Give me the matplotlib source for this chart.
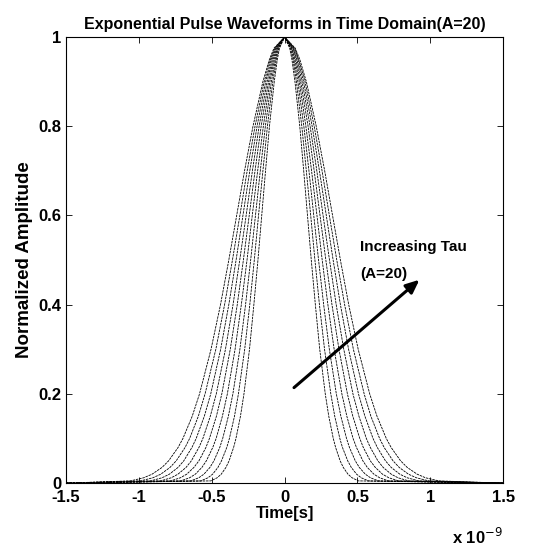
import numpy as np
import matplotlib
matplotlib.use("Agg")
import matplotlib.pyplot as plt

# amplitude levels at which the half-width of each pulse was read (normalized)
levels = [1.0, 0.975, 0.95, 0.9, 0.8, 0.7, 0.6, 0.5, 0.4, 0.3, 0.2, 0.15, 0.1,
          0.08, 0.05, 0.035, 0.02, 0.012, 0.005]
# half-widths (in units of 1e-9 s) for each curve, narrowest to widest
hw_tau1 = [0, .035, .050, .071, .104, .131, .157, .183, .211, .241, .279, .303, .334, .350, .381, .403, .435, .463, .506]
hw_tau2 = [0, .040, .057, .081, .118, .149, .179, .208, .239, .274, .317, .344, .379, .397, .433, .458, .494, .526, .575]
hw_tau3 = [0, .045, .063, .091, .132, .167, .200, .233, .268, .307, .355, .386, .425, .445, .485, .513, .554, .589, .644]
hw_tau4 = [0, .049, .070, .101, .146, .185, .222, .258, .297, .340, .393, .427, .470, .493, .537, .568, .613, .652, .713]
hw_tau5 = [0, .054, .077, .110, .161, .203, .243, .283, .325, .373, .431, .468, .516, .540, .588, .623, .672, .715, .782]
hw_tau6 = [0, .059, .084, .120, .175, .221, .264, .308, .354, .406, .469, .510, .561, .588, .640, .677, .732, .778, .851]
hw_tau7 = [0, .064, .091, .130, .189, .239, .286, .333, .383, .439, .507, .551, .607, .636, .692, .732, .791, .841, .920]
hw_tau8 = [0, .068, .097, .140, .203, .257, .307, .358, .412, .472, .546, .592, .652, .683, .744, .787, .850, .904, .989]
hw_tau9 = [0, .073, .104, .149, .217, .275, .329, .383, .440, .505, .584, .634, .698, .731, .796, .842, .910, .967, 1.058]
curves = [hw_tau1, hw_tau2, hw_tau3, hw_tau4, hw_tau5, hw_tau6, hw_tau7, hw_tau8, hw_tau9]

x_ticks = [-1.5, -1, -0.5, 0, 0.5, 1, 1.5]
x_ticklabels = ["-1.5", "-1", "-0.5", "0", "0.5", "1", "1.5"]
y_ticks = [0, 0.2, 0.4, 0.6, 0.8, 1.0]
y_ticklabels = ["0", "0.2", "0.4", "0.6", "0.8", "1"]
x_span = [-1.5, 1.5]

plt.rcParams['font.family'] = ['Liberation Sans', 'DejaVu Sans']

fig = plt.figure(figsize=(5.37, 5.49), dpi=100)
ax = fig.add_axes([0.123, 0.120, 0.814, 0.8126])

lv = np.array(levels)
for hw in curves:
    hw = np.array(hw)
    xs = np.concatenate([[x_span[0]], -hw[::-1], hw[1:], [x_span[1]]])
    ys = np.concatenate([[0.0], lv[::-1], lv[1:], [0.0]])
    ax.plot(xs, ys, color='black', lw=0.6, linestyle=(0, (3, 1)))

ax.set_xlim(x_span)
ax.set_ylim(0, 1)
ax.set_xticks(x_ticks)
ax.set_xticklabels(x_ticklabels)
ax.set_yticks(y_ticks)
ax.set_yticklabels(y_ticklabels)
ax.tick_params(direction='in', top=True, right=True, length=4, width=0.6,
               labelsize=12)
ax.tick_params(axis='x', pad=5)
for lab in ax.get_xticklabels() + ax.get_yticklabels():
    lab.set_fontweight('bold')
for sp in ax.spines.values():
    sp.set_linewidth(0.8)

ax.set_title("Exponential Pulse Waveforms in Time Domain(A=20)",
             fontsize=11.5, fontweight='bold', pad=6)
ax.set_xlabel("Time[s]", fontsize=12, fontweight='bold', labelpad=1)
ax.set_ylabel("Normalized Amplitude", fontsize=13.5, fontweight='bold', labelpad=4)
ax.text(1.5, -0.12, r"x 10$^{-9}$", fontsize=12, fontweight='bold',
        ha='right', va='center')

ax.annotate("", xy=(0.94, 0.46), xytext=(0.05, 0.21),
            arrowprops=dict(arrowstyle='-|>,head_length=0.8,head_width=0.35',
                            color='black', lw=2.2))
ax.text(0.52, 0.530, "Increasing Tau", fontsize=11, fontweight='bold', va='center')
ax.text(0.52, 0.469, "(A=20)", fontsize=11, fontweight='bold', va='center')

fig.savefig("out.png", dpi=100)
